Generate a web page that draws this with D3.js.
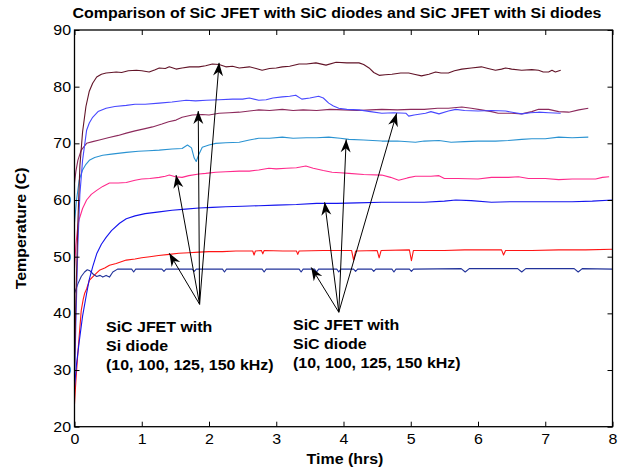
<!DOCTYPE html>
<html>
<head>
<meta charset="utf-8">
<script src="https://cdn.jsdelivr.net/npm/d3@7"></script>
<style>
  body { margin: 0; background: #fff; }
  text { font-family: "Liberation Sans", Arial, Helvetica, sans-serif; fill: #000; }
</style>
</head>
<body>
<svg id="chart" width="623" height="469"></svg>
<script>
// Axis ticks
const xTicks = [0, 1, 2, 3, 4, 5, 6, 7, 8];
const yTicks = [20, 30, 40, 50, 60, 70, 80, 90];

// Temperature traces: [time (hrs), temperature (C)]
// SiC JFET with Si diode
const siDiode10 = [[0,24],[0.02,28],[0.05,33],[0.08,37.5],[0.1,40.5],[0.13,42.5],[0.15,43.5],[0.18,44.3],[0.22,45.8],[0.3,46.8],[0.37,47.6],[0.45,48.0],[0.52,48.5],[0.62,48.8],[0.77,49.4],[0.9,49.6],[1.0,49.8],[1.12,50.0],[1.25,50.2],[1.41,50.4],[1.55,50.6],[1.7,50.7],[1.85,50.8],[2.0,50.9],[2.2,50.9],[2.4,51.0],[2.65,51.0],[2.67,50.3],[2.69,51.0],[2.78,51.1],[2.8,50.5],[2.82,51.1],[3.1,51.0],[3.3,51.0],[3.32,50.4],[3.34,51.0],[3.7,51.1],[4.12,51.1],[4.15,49.4],[4.18,51.0],[4.5,51.1],[4.53,49.8],[4.56,51.1],[4.98,51.2],[5.01,49.3],[5.04,51.1],[5.5,51.1],[5.8,51.2],[6.35,51.2],[6.38,50.3],[6.41,51.1],[6.8,51.1],[7.2,51.2],[7.6,51.2],[8.0,51.3]];
const siDiode100 = [[0,48],[0.02,52],[0.05,55.5],[0.07,56.6],[0.12,58.5],[0.18,60.0],[0.25,61.0],[0.33,61.7],[0.42,62.4],[0.52,63.0],[0.65,63.0],[0.77,63.1],[0.9,63.5],[1.0,63.7],[1.12,63.8],[1.26,64.0],[1.35,64.2],[1.41,64.4],[1.5,64.1],[1.6,64.0],[1.7,64.3],[1.85,64.6],[1.95,64.7],[2.1,64.9],[2.25,65.0],[2.45,65.1],[2.6,65.1],[2.74,65.3],[2.89,65.6],[3.0,65.5],[3.15,65.6],[3.3,65.7],[3.44,66.0],[3.55,65.6],[3.7,65.2],[3.83,64.9],[3.95,64.8],[4.08,64.7],[4.3,64.5],[4.57,64.4],[4.7,64.0],[4.82,63.5],[4.95,63.9],[5.07,64.2],[5.3,64.2],[5.42,64.3],[5.5,63.8],[5.7,63.8],[6.0,63.7],[6.2,64.0],[6.45,64.0],[6.6,64.1],[6.75,63.8],[7.0,63.8],[7.2,63.6],[7.4,63.7],[7.6,63.7],[7.75,63.7],[7.85,64.0],[7.95,64.1]];
const siDiode125 = [[0,63],[0.02,65],[0.05,67],[0.1,68.8],[0.18,70],[0.27,70.3],[0.37,70.6],[0.5,71.0],[0.65,71.4],[0.77,71.8],[0.9,72.2],[1.05,72.6],[1.16,72.9],[1.3,73.4],[1.4,73.8],[1.51,74.1],[1.6,74.6],[1.75,75.0],[1.9,75.1],[2.0,75.0],[2.15,75.3],[2.3,75.4],[2.45,75.5],[2.6,75.7],[2.74,75.9],[2.9,75.8],[3.09,76.0],[3.25,75.8],[3.4,75.9],[3.6,75.8],[3.8,76.0],[4.0,75.9],[4.2,75.8],[4.4,75.9],[4.57,76.0],[4.8,75.9],[5.0,76.0],[5.2,76.0],[5.4,76.2],[5.56,76.2],[5.76,76.4],[5.9,76.2],[6.05,75.9],[6.2,75.6],[6.3,75.3],[6.5,75.3],[6.65,75.2],[6.8,75.6],[6.9,76.0],[7.05,76.0],[7.2,75.6],[7.35,75.5],[7.5,75.9],[7.64,76.2]];
const siDiode150 = [[0,30],[0.02,42],[0.05,56],[0.08,66],[0.12,72],[0.17,76.5],[0.22,79.2],[0.27,80.6],[0.33,81.7],[0.4,82.2],[0.47,82.4],[0.55,82.5],[0.62,82.6],[0.7,82.5],[0.8,82.8],[0.92,82.9],[1.0,82.8],[1.11,82.6],[1.2,83.0],[1.26,83.3],[1.35,83.2],[1.41,83.5],[1.51,83.1],[1.6,83.3],[1.71,83.5],[1.85,83.5],[1.95,83.7],[2.05,84.0],[2.15,83.9],[2.25,83.5],[2.35,83.6],[2.45,83.3],[2.6,83.5],[2.7,83.2],[2.79,82.9],[2.9,83.2],[3.0,83.3],[3.09,83.5],[3.2,83.6],[3.34,84.0],[3.45,84.0],[3.59,84.2],[3.74,83.8],[3.89,84.3],[4.05,84.2],[4.23,84.2],[4.3,83.9],[4.38,83.3],[4.45,82.5],[4.53,82.0],[4.62,82.1],[4.72,82.2],[4.85,82.4],[4.97,82.4],[5.05,82.2],[5.16,81.9],[5.27,82.2],[5.37,82.6],[5.45,82.4],[5.56,82.4],[5.65,82.8],[5.76,83.1],[5.9,83.3],[6.05,83.5],[6.15,83.2],[6.26,82.9],[6.35,83.1],[6.41,83.3],[6.5,83.1],[6.65,82.9],[6.8,83.0],[6.9,82.9],[6.97,82.6],[7.05,82.6],[7.1,82.9],[7.15,82.6],[7.23,82.9]];

// SiC JFET with SiC diode
const sicDiode10 = [[0,43.5],[0.05,45.2],[0.1,46.5],[0.15,47.3],[0.19,47.7],[0.23,47.5],[0.28,46.9],[0.33,46.5],[0.38,46.7],[0.42,46.4],[0.47,46.7],[0.52,46.4],[0.57,47.3],[0.64,47.8],[0.85,47.8],[0.88,47.3],[0.91,47.8],[1.3,47.8],[1.33,47.4],[1.36,47.8],[1.75,47.8],[1.78,47.4],[1.81,47.8],[2.2,47.8],[2.23,47.3],[2.26,47.8],[2.79,47.8],[2.82,47.3],[2.85,47.8],[3.34,47.8],[3.37,47.3],[3.4,47.8],[3.57,47.8],[3.6,47.3],[3.63,47.8],[3.9,47.8],[3.93,47.3],[3.96,47.8],[4.15,47.8],[4.18,47.4],[4.21,47.8],[4.42,47.8],[4.45,47.4],[4.48,47.8],[4.72,47.8],[4.75,47.3],[4.78,47.8],[4.98,47.8],[5.01,47.4],[5.04,47.8],[5.75,47.9],[5.81,47.3],[5.87,47.9],[6.59,47.9],[6.65,47.3],[6.71,47.9],[7.43,47.9],[7.49,47.3],[7.55,47.9],[8.0,47.8]];
const sicDiode100 = [[0,27],[0.03,31],[0.07,35],[0.12,39.5],[0.18,43.5],[0.22,46],[0.27,48.2],[0.33,50.5],[0.4,52.2],[0.47,53.4],[0.55,54.6],[0.67,55.9],[0.77,56.7],[0.9,57.2],[1.05,57.6],[1.26,57.9],[1.45,58.2],[1.65,58.4],[1.85,58.6],[2.05,58.7],[2.25,58.8],[2.5,58.9],[2.74,59.0],[3.0,59.1],[3.3,59.2],[3.6,59.4],[3.9,59.4],[4.2,59.5],[4.57,59.6],[4.9,59.6],[5.2,59.6],[5.5,59.8],[5.67,60.0],[5.9,59.9],[6.2,59.6],[6.5,59.7],[6.8,59.7],[7.1,59.7],[7.4,59.7],[7.7,59.8],[8.0,60.0]];
const sicDiode125 = [[0,56],[0.03,60],[0.07,63.5],[0.12,65.3],[0.17,66.3],[0.22,67.0],[0.3,67.5],[0.42,67.9],[0.55,68.1],[0.77,68.4],[0.95,68.6],[1.1,68.7],[1.26,68.8],[1.45,69.0],[1.6,69.1],[1.68,69.7],[1.74,69.2],[1.78,67.4],[1.81,66.8],[1.84,67.8],[1.9,69.3],[2.0,69.7],[2.1,70.0],[2.25,70.1],[2.45,70.2],[2.6,70.6],[2.74,70.9],[2.9,70.9],[3.09,71.1],[3.25,70.9],[3.45,71.0],[3.6,71.0],[3.78,71.1],[3.95,70.9],[4.08,70.7],[4.3,70.6],[4.57,70.4],[4.8,70.4],[5.07,70.2],[5.2,70.4],[5.42,70.5],[5.6,70.2],[5.8,70.3],[6.0,70.4],[6.26,70.4],[6.45,70.5],[6.65,70.7],[6.8,70.8],[7.0,70.8],[7.2,71.1],[7.4,71.0],[7.64,71.1]];
const sicDiode150 = [[0,28],[0.02,38],[0.05,52],[0.08,61],[0.12,67],[0.18,72.3],[0.22,73.6],[0.27,74.6],[0.35,75.6],[0.47,76.2],[0.6,76.5],[0.77,76.7],[0.9,76.9],[1.05,76.9],[1.26,77.1],[1.45,77.3],[1.66,77.6],[1.8,77.5],[1.96,77.6],[2.15,77.7],[2.35,77.8],[2.5,77.8],[2.6,78.0],[2.74,77.6],[2.85,77.7],[2.95,78.0],[3.09,78.2],[3.2,78.3],[3.29,78.5],[3.38,77.8],[3.5,78.0],[3.63,78.3],[3.7,78.0],[3.78,77.1],[3.85,76.6],[3.93,76.2],[4.05,76.0],[4.23,75.9],[4.4,75.6],[4.57,75.3],[4.75,75.4],[4.93,75.3],[4.97,74.8],[5.05,75.0],[5.22,75.3],[5.3,75.6],[5.42,75.2],[5.56,75.7],[5.67,76.0],[5.8,75.8],[6.0,75.7],[6.2,75.8],[6.41,75.7],[6.55,75.4],[6.65,75.2],[6.78,75.4],[6.9,75.5],[7.05,75.4],[7.23,75.3]];

// Drawing order and colours
const traces = [
  { data: siDiode10,   color: "#ff1414" },
  { data: sicDiode10,  color: "#22339a" },
  { data: sicDiode100, color: "#1414ee" },
  { data: siDiode100,  color: "#ff2a8c" },
  { data: sicDiode125, color: "#2a93d2" },
  { data: siDiode125,  color: "#8c2a5c" },
  { data: sicDiode150, color: "#4848ff" },
  { data: siDiode150,  color: "#621428" }
];

// Annotation arrows (data units): tail point and arrow tips
const siArrowTail = [1.86, 41.6];
const siArrowTips = [[1.41, 50.6], [1.51, 64.4], [1.84, 75.7], [2.15, 84.2]];
const sicArrowTail = [3.93, 40.2];
const sicArrowTips = [[3.52, 48.1], [3.72, 59.6], [4.04, 70.7], [4.79, 75.3]];

const siLabel = ["SiC JFET with", "Si diode", "(10, 100, 125, 150 kHz)"];
const sicLabel = ["SiC JFET with", "SiC diode", "(10, 100, 125, 150 kHz)"];

// Figure text is set slightly wide
const textStretch = 1.14;

const svg = d3.select("#chart");
const margin = { left: 74.5, right: 623 - 612.5, top: 30, bottom: 469 - 426.7 };

const x = d3.scaleLinear().domain([0, 8]).range([margin.left, 623 - margin.right]);
const y = d3.scaleLinear().domain([20, 90]).range([469 - margin.bottom, margin.top]);

// Traces
const line = d3.line().x(d => x(d[0])).y(d => y(d[1]));
svg.append("g")
  .selectAll("path")
  .data(traces)
  .join("path")
  .attr("d", d => line(d.data))
  .attr("fill", "none")
  .attr("stroke", d => d.color)
  .attr("stroke-width", 1.1)
  .attr("stroke-linejoin", "round");

// Axes (ticks pointing inwards, box around the plot)
const tickLen = 5;
const axisFont = 14;
const xAxisB = d3.axisBottom(x).tickValues(xTicks).tickSizeInner(-tickLen).tickSizeOuter(0).tickPadding(7);
const xAxisT = d3.axisTop(x).tickValues(xTicks).tickSizeInner(-tickLen).tickSizeOuter(0).tickFormat("");
const yAxisL = d3.axisLeft(y).tickValues(yTicks).tickSizeInner(-tickLen).tickSizeOuter(0).tickPadding(3.5);
const yAxisR = d3.axisRight(y).tickValues(yTicks).tickSizeInner(-tickLen).tickSizeOuter(0).tickFormat("");

function styleAxis(g) {
  g.select(".domain").remove();
  g.selectAll(".tick line").attr("stroke", "#000").attr("stroke-width", 1);
  g.selectAll(".tick text")
    .attr("font-size", axisFont)
    .attr("font-family", "Liberation Sans, Arial, sans-serif")
    .attr("fill", "#000")
    .each(function () {
      const t = d3.select(this);
      const tx = +t.attr("x") || 0;
      t.attr("x", tx / textStretch).attr("transform", `scale(${textStretch},1)`);
    });
}
svg.append("g").attr("transform", `translate(0,${y(20)})`).call(xAxisB).call(styleAxis);
svg.append("g").attr("transform", `translate(0,${y(90)})`).call(xAxisT).call(styleAxis);
svg.append("g").attr("transform", `translate(${x(0)},0)`).call(yAxisL).call(styleAxis);
svg.append("g").attr("transform", `translate(${x(8)},0)`).call(yAxisR).call(styleAxis);

svg.append("rect")
  .attr("x", x(0)).attr("y", y(90))
  .attr("width", x(8) - x(0)).attr("height", y(20) - y(90))
  .attr("fill", "none").attr("stroke", "#000").attr("stroke-width", 1.3);

// Arrows
function arrowHead(tail, tip) {
  const tx = x(tip[0]), ty = y(tip[1]);
  const ang = Math.atan2(ty - y(tail[1]), tx - x(tail[0])) * 180 / Math.PI;
  return `translate(${tx},${ty}) rotate(${ang})`;
}
function drawArrows(tail, tips) {
  const g = svg.append("g");
  g.selectAll("line").data(tips).join("line")
    .attr("x1", x(tail[0])).attr("y1", y(tail[1]))
    .attr("x2", d => x(d[0])).attr("y2", d => y(d[1]))
    .attr("stroke", "#000").attr("stroke-width", 1);
  g.selectAll("path").data(tips).join("path")
    .attr("d", "M0,0 L-13,-5 L-9,0 L-13,5 Z")
    .attr("transform", d => arrowHead(tail, d))
    .attr("fill", "#000");
}
drawArrows(siArrowTail, siArrowTips);
drawArrows(sicArrowTail, sicArrowTips);

// Text helper: place text at (px, py) with optional rotation, stretched horizontally
function addText(str, px, py, opts = {}) {
  const rot = opts.rotate ? ` rotate(${opts.rotate})` : "";
  return svg.append("text")
    .attr("transform", `translate(${px},${py})${rot} scale(${textStretch},1)`)
    .attr("text-anchor", opts.anchor || "start")
    .attr("font-size", opts.size || 14)
    .attr("font-weight", opts.bold ? "bold" : "normal")
    .text(str);
}

// Annotation labels
function drawLabel(lines, px, py) {
  lines.forEach((s, i) => addText(s, px, py + i * 19, { bold: true }));
}
drawLabel(siLabel, 106, 332);
drawLabel(sicLabel, 293, 330);

// Title and axis titles
addText("Comparison of SiC JFET with SiC diodes and SiC JFET with Si diodes", 337, 18, { anchor: "middle", bold: true });
addText("Time (hrs)", 345, 464, { anchor: "middle", bold: true });
addText("Temperature (C)", 26, (y(20) + y(90)) / 2, { anchor: "middle", bold: true, rotate: -90 });
</script>
</body>
</html>
